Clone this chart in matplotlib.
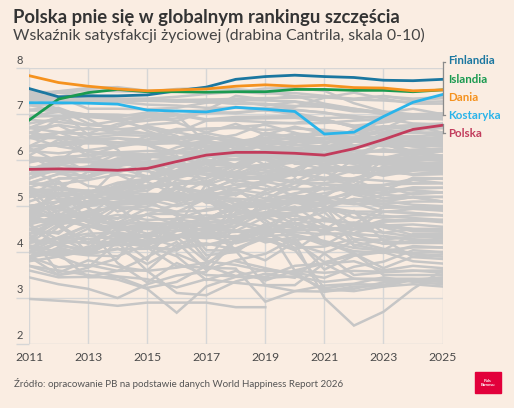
import matplotlib.pyplot as plt
import numpy as np
from matplotlib.patches import Rectangle

years = list(range(2011, 2026))

finlandia = [7.56, 7.38, 7.40, 7.40, 7.42, 7.51, 7.59, 7.76, 7.82, 7.85, 7.82, 7.80, 7.74, 7.73, 7.76]
islandia = [6.87, 7.33, 7.47, 7.54, 7.49, 7.49, 7.48, 7.49, 7.49, 7.54, 7.54, 7.52, 7.52, 7.49, 7.53]
dania = [7.84, 7.69, 7.61, 7.55, 7.51, 7.53, 7.55, 7.61, 7.64, 7.61, 7.63, 7.58, 7.57, 7.51, 7.53]
kostaryka = [7.25, 7.25, 7.24, 7.22, 7.09, 7.07, 7.05, 7.15, 7.11, 7.06, 6.57, 6.61, 6.95, 7.26, 7.43]
polska = [5.80, 5.81, 5.80, 5.78, 5.82, 5.97, 6.11, 6.17, 6.17, 6.15, 6.11, 6.25, 6.45, 6.67, 6.76]

pozostale = [
    [7.45, 7.50, 7.52, 7.50, 7.49, 7.55, 7.57, 7.55, 7.49, 7.39, 7.37, 7.32, 7.30, 7.26, 7.28],
    [7.40, 7.50, 7.57, 7.59, 7.51, 7.49, 7.48, 7.49, 7.56, 7.57, 7.51, 7.24, 7.06, 6.94, 6.98],
    [7.50, 7.47, 7.38, 7.34, 7.34, 7.38, 7.44, 7.49, 7.45, 7.46, 7.40, 7.32, 7.40, 7.30, 7.35],
    [7.40, 7.38, 7.36, 7.29, 7.29, 7.28, 7.31, 7.34, 7.35, 7.36, 7.38, 7.34, 7.39, 7.34, 7.37],
    [7.20, 7.22, 7.29, 7.29, 7.33, 7.31, 7.32, 7.31, 7.30, 7.28, 7.20, 7.12, 7.03, 6.95, 6.90],
    [7.35, 7.35, 7.31, 7.28, 7.31, 7.28, 7.27, 7.23, 7.22, 7.18, 7.16, 7.06, 7.06, 7.00, 7.00],
    [7.28, 7.48, 7.43, 7.32, 7.32, 7.28, 7.28, 7.23, 7.23, 7.10, 7.03, 6.96, 6.90, 6.80, 6.78],
    [7.30, 7.30, 7.28, 7.27, 7.21, 7.19, 7.14, 7.14, 7.13, 7.16, 7.36, 7.47, 7.34, 7.23, 7.23],
    [7.30, 7.37, 7.12, 7.12, 7.11, 7.14, 7.25, 7.29, 7.19, 7.27, 7.16, 7.10, 7.00, 6.91, 6.95],
    [6.96, 7.05, 6.95, 6.91, 6.86, 6.91, 7.09, 7.40, 7.32, 7.40, 7.23, 7.12, 7.03, 7.12, 7.00],
    [7.20, 7.08, 6.98, 6.94, 7.04, 6.98, 7.02, 7.04, 7.09, 7.09, 7.04, 6.91, 6.84, 6.91, 6.89],
    [6.70, 6.95, 7.00, 6.99, 6.95, 7.07, 7.08, 7.16, 7.08, 7.03, 6.89, 6.72, 6.71, 6.73, 6.76],
    [6.95, 6.96, 6.94, 6.89, 6.93, 6.99, 6.87, 6.86, 6.83, 6.80, 6.81, 6.86, 6.89, 6.92, 6.90],
    [7.08, 7.08, 6.99, 6.86, 6.99, 7.00, 6.89, 6.94, 6.95, 6.96, 6.89, 6.72, 6.72, 6.72, 6.75],
    [6.88, 6.83, 6.76, 6.73, 6.94, 6.85, 7.06, 7.02, 7.10, 6.99, 6.87, 6.75, 6.72, 6.73, 6.70],
    [6.90, 7.09, 6.80, 6.68, 6.58, 6.49, 6.59, 6.47, 6.32, 6.13, 6.33, 6.68, 6.68, 6.97, 6.98],
    [6.30, 6.60, 6.70, 6.60, 6.74, 6.60, 6.86, 6.90, 6.91, 6.92, 6.85, 6.75, 6.82, 6.92, 6.95],
    [5.85, 5.80, 5.83, 6.00, 6.03, 6.28, 6.44, 6.55, 6.80, 6.81, 6.92, 6.93, 6.95, 7.00, 7.02],
    [6.00, 6.06, 5.75, 5.73, 5.95, 6.00, 6.36, 6.40, 6.44, 6.37, 6.63, 6.60, 6.74, 6.65, 6.70],
    [6.70, 6.76, 6.46, 6.48, 6.44, 6.64, 6.69, 6.70, 6.66, 6.69, 6.66, 6.59, 6.60, 6.59, 6.60],
    [6.80, 6.90, 6.98, 6.95, 6.64, 6.42, 6.30, 6.19, 6.38, 6.33, 6.29, 6.27, 6.56, 6.49, 6.45],
    [6.60, 6.50, 6.49, 6.55, 6.53, 6.37, 6.29, 6.42, 6.31, 6.43, 6.47, 6.49, 6.61, 6.64, 6.50],
    [6.60, 6.77, 6.67, 6.67, 6.72, 6.61, 6.48, 6.44, 6.23, 6.17, 6.33, 6.13, 6.36, 6.13, 6.20],
    [6.30, 6.32, 6.37, 6.36, 6.40, 6.40, 6.31, 6.35, 6.40, 6.49, 6.47, 6.44, 6.42, 6.47, 6.50],
    [6.05, 5.97, 5.96, 5.98, 5.96, 6.00, 6.22, 6.39, 6.48, 6.46, 6.41, 6.32, 6.33, 6.32, 6.30],
    [6.48, 6.48, 6.41, 6.38, 6.35, 6.37, 6.52, 6.41, 6.49, 6.56, 6.46, 6.59, 6.72, 6.76, 6.60],
    [7.10, 7.14, 6.90, 6.57, 6.77, 6.82, 6.60, 6.79, 6.56, 6.73, 6.58, 6.57, 6.73, 6.76, 6.80],
    [6.50, 6.30, 6.20, 6.10, 6.08, 6.02, 6.12, 6.20, 6.31, 6.27, 6.30, 6.40, 6.95, 6.90, 6.95],
    [6.10, 6.45, 6.10, 6.30, 6.45, 6.50, 6.44, 6.26, 6.46, 6.23, 6.12, 6.29, 6.43, 6.30, 6.35],
    [6.50, 6.60, 6.56, 6.60, 6.58, 6.39, 6.09, 6.02, 6.01, 5.97, 5.90, 6.02, 6.39, 6.19, 6.25],
    [6.50, 6.60, 6.58, 6.79, 6.86, 6.98, 6.38, 6.34, 6.55, 6.50, 6.38, 6.48, 6.52, 6.52, 6.55],
    [6.20, 6.15, 6.22, 6.30, 6.38, 6.46, 6.53, 6.35, 6.45, 6.58, 6.54, 6.51, 6.67, 6.60, 6.60],
    [6.50, 6.90, 6.76, 6.86, 6.70, 6.53, 6.18, 6.40, 6.30, 6.18, 6.31, 6.27, 6.36, 6.30, 6.20],
    [6.20, 6.38, 6.38, 6.48, 6.35, 6.16, 6.11, 6.09, 6.01, 5.78, 6.01, 6.03, 5.70, 5.95, 5.90],
    [5.95, 6.07, 6.10, 6.17, 6.20, 6.20, 6.30, 6.32, 6.13, 6.33, 6.39, 6.50, 6.47, 6.47, 6.45],
    [5.80, 6.00, 5.97, 5.93, 5.88, 6.01, 6.13, 5.89, 5.77, 5.76, 5.56, 6.03, 5.95, 5.79, 5.80],
    [5.60, 6.00, 6.13, 5.85, 6.12, 6.17, 6.09, 6.34, 6.29, 6.12, 6.11, 6.43, 6.43, 6.40, 6.50],
    [5.50, 5.70, 5.80, 5.89, 5.96, 6.05, 6.14, 6.11, 6.14, 6.26, 6.16, 6.32, 6.39, 6.35, 6.40],
    [6.06, 6.03, 6.02, 6.15, 6.12, 6.05, 5.91, 5.87, 6.09, 6.04, 6.12, 6.13, 6.06, 6.13, 6.10],
    [6.27, 5.96, 5.96, 5.87, 5.97, 5.90, 5.95, 5.89, 6.12, 5.94, 6.06, 5.95, 6.06, 6.03, 6.00],
    [5.70, 5.76, 5.86, 6.14, 5.92, 5.96, 5.79, 6.27, 6.05, 6.15, 6.23, 6.19, 6.19, 6.16, 6.20],
    [5.00, 5.10, 5.05, 5.21, 5.56, 5.78, 6.07, 6.12, 6.07, 6.17, 6.14, 6.26, 6.60, 6.42, 6.45],
    [5.80, 5.95, 6.04, 5.96, 6.08, 6.15, 6.20, 6.21, 6.60, 6.49, 6.65, 6.03, 6.01, 5.96, 5.90],
    [5.50, 5.40, 5.30, 5.51, 5.60, 5.61, 5.76, 5.74, 6.11, 6.21, 6.25, 6.45, 6.34, 6.19, 6.10],
    [4.90, 5.00, 5.10, 5.41, 5.56, 5.87, 5.98, 5.89, 6.23, 6.18, 6.03, 6.21, 6.19, 6.23, 6.25],
    [4.70, 4.60, 4.78, 5.30, 5.62, 5.76, 6.00, 5.84, 6.08, 6.04, 6.00, 6.12, 6.00, 6.02, 6.05],
    [5.00, 5.10, 5.20, 5.37, 5.41, 5.71, 5.60, 5.91, 6.26, 5.92, 5.93, 5.97, 5.96, 6.03, 6.05],
    [5.50, 5.40, 5.33, 5.28, 5.43, 5.50, 5.61, 5.88, 6.04, 6.13, 6.10, 6.00, 5.91, 5.90, 5.95],
    [4.70, 4.60, 5.10, 5.17, 5.40, 5.70, 5.96, 6.02, 6.14, 6.10, 6.07, 6.41, 6.30, 6.32, 6.35],
    [6.30, 6.37, 6.44, 6.39, 6.33, 6.07, 6.02, 5.89, 5.84, 5.70, 5.60, 5.78, 6.00, 5.94, 5.90],
    [6.10, 5.76, 5.44, 5.37, 5.85, 5.89, 6.26, 6.16, 6.05, 6.09, 6.15, 6.03, 6.07, 6.00, 6.05],
    [4.60, 4.80, 5.10, 5.03, 5.06, 5.57, 5.46, 5.67, 5.73, 5.67, 5.88, 5.79, 5.66, 5.77, 5.80],
    [5.50, 5.70, 5.66, 5.95, 5.96, 5.86, 5.81, 5.70, 5.92, 5.68, 5.74, 5.80, 5.78, 5.69, 5.70],
    [5.80, 5.90, 6.00, 5.69, 5.41, 5.47, 5.54, 5.75, 5.66, 5.81, 6.09, 6.07, 6.04, 5.93, 5.95],
    [4.90, 4.99, 5.31, 5.43, 5.45, 5.61, 5.94, 6.27, 6.05, 5.64, 6.25, 6.02, 6.00, 6.09, 6.05],
    [5.80, 5.50, 5.08, 5.07, 5.12, 5.38, 5.30, 5.47, 5.53, 5.41, 5.76, 5.85, 6.04, 6.04, 6.10],
    [4.80, 5.10, 5.00, 5.29, 5.33, 5.72, 5.71, 5.63, 5.81, 6.04, 5.92, 5.98, 5.95, 5.90, 5.90],
    [5.60, 5.85, 5.60, 6.03, 5.84, 5.68, 5.81, 5.86, 5.89, 6.12, 5.86, 6.11, 6.24, 6.16, 6.20],
    [5.35, 5.37, 5.75, 5.90, 5.89, 5.75, 5.85, 5.66, 5.58, 5.80, 6.00, 5.72, 6.05, 5.90, 5.95],
    [4.75, 4.60, 5.10, 5.48, 5.55, 6.10, 5.48, 5.83, 5.91, 6.02, 5.99, 5.92, 5.97, 5.94, 5.90],
    [5.40, 4.80, 4.77, 5.07, 5.15, 5.42, 5.30, 5.61, 5.59, 5.74, 5.74, 5.53, 6.00, 5.82, 5.80],
    [5.30, 4.70, 4.83, 4.72, 5.15, 5.00, 5.15, 5.25, 5.51, 5.70, 5.79, 5.86, 5.95, 5.96, 5.90],
    [5.80, 5.77, 5.76, 5.75, 5.84, 5.74, 5.68, 5.53, 5.67, 5.53, 5.84, 5.84, 5.82, 5.87, 5.85],
    [5.60, 5.80, 5.86, 5.82, 5.76, 5.65, 5.78, 5.64, 5.64, 5.71, 5.60, 5.46, 5.78, 5.68, 5.70],
    [5.80, 5.75, 5.80, 5.94, 5.93, 5.67, 5.92, 5.65, 5.87, 5.95, 5.80, 5.73, 5.70, 5.79, 5.80],
    [4.50, 4.70, 5.04, 5.23, 5.05, 5.39, 5.19, 5.36, 5.27, 5.12, 5.40, 5.37, 5.27, 5.38, 5.40],
    [5.30, 5.15, 5.19, 5.05, 5.27, 5.24, 5.20, 5.40, 5.55, 5.70, 5.62, 5.60, 5.73, 5.70, 5.75],
    [4.85, 5.01, 5.09, 5.17, 5.18, 5.20, 5.18, 5.16, 5.12, 5.52, 5.59, 5.54, 5.87, 5.81, 5.80],
    [5.40, 5.20, 5.30, 5.33, 5.25, 5.09, 5.35, 5.57, 5.45, 5.22, 5.21, 5.57, 5.32, 5.62, 5.60],
    [5.40, 5.60, 5.62, 5.92, 6.07, 5.37, 5.29, 5.04, 5.01, 4.89, 5.12, 5.33, 5.36, 5.57, 5.50],
    [3.90, 4.20, 4.22, 4.22, 4.11, 4.71, 4.93, 5.01, 5.10, 5.26, 5.47, 5.45, 5.46, 5.59, 5.60],
    [4.60, 5.55, 4.96, 4.61, 4.64, 4.59, 4.72, 5.00, 5.12, 5.20, 5.15, 5.28, 5.30, 5.41, 5.40],
    [5.30, 5.35, 5.33, 5.39, 5.39, 5.50, 5.48, 5.37, 4.95, 5.13, 4.74, 4.61, 4.97, 4.98, 4.95],
    [5.00, 5.10, 4.68, 4.36, 4.10, 4.06, 4.39, 4.33, 4.56, 4.88, 5.08, 5.07, 4.87, 4.94, 4.90],
    [4.15, 4.00, 3.98, 4.29, 4.25, 4.34, 4.53, 4.45, 4.47, 4.89, 4.94, 5.29, 5.18, 5.19, 5.10],
    [4.20, 4.30, 4.28, 4.35, 4.36, 4.32, 4.45, 4.56, 5.12, 5.28, 5.38, 5.34, 5.46, 5.49, 5.50],
    [4.85, 5.25, 5.27, 4.88, 5.07, 4.87, 5.16, 4.92, 4.76, 4.55, 4.98, 4.88, 4.88, 4.85, 4.80],
    [5.30, 5.28, 5.19, 5.83, 5.65, 5.47, 5.07, 5.12, 4.62, 4.52, 4.56, 4.41, 4.66, 4.68, 4.70],
    [4.90, 4.96, 4.64, 4.51, 4.83, 4.83, 4.72, 4.81, 4.95, 5.18, 5.28, 5.42, 5.38, 5.34, 5.30],
    [4.75, 4.64, 4.69, 4.81, 4.70, 4.72, 4.61, 4.55, 4.87, 4.62, 4.71, 4.50, 4.88, 4.85, 4.80],
    [5.00, 4.97, 5.23, 5.15, 5.24, 5.27, 5.21, 4.97, 5.00, 4.92, 4.90, 4.85, 4.79, 4.74, 4.70],
    [4.60, 4.27, 4.19, 4.20, 4.36, 4.74, 3.93, 4.00, 4.42, 4.17, 3.98, 4.23, 4.07, 3.98, 4.00],
    [4.10, 4.30, 4.40, 4.42, 4.36, 4.56, 4.64, 4.67, 4.54, 4.61, 4.46, 4.58, 4.60, 4.45, 4.45],
    [4.90, 5.00, 4.69, 4.63, 4.64, 4.50, 4.31, 4.86, 4.86, 5.15, 5.03, 4.13, 4.28, 3.89, 3.85],
    [5.00, 4.77, 4.57, 4.40, 4.32, 4.12, 4.19, 4.05, 3.82, 4.22, 3.78, 3.93, 4.04, 4.39, 4.40],
    [4.50, 4.20, 3.95, 4.08, 3.74, 4.08, 4.16, 4.23, 4.43, 4.64, 4.43, 4.64, 4.54, 4.37, 4.40],
    [4.90, 5.28, 4.97, 4.47, 4.53, 4.53, 5.48, 4.72, 4.97, 4.69, 4.87, 4.27, 4.27, 4.34, 4.30],
    [4.70, 5.40, 4.68, 5.03, 5.13, 4.79, 4.04, 4.03, 3.28, 3.28, 3.76, 3.98, 3.50, 3.50, 3.50],
    [3.90, 3.97, 3.45, 3.46, 3.22, 3.35, 3.70, 3.48, 3.62, 3.55, 3.44, 3.68, 3.79, 4.04, 4.00],
    [4.60, 4.13, 4.07, 4.65, 4.10, 3.69, 3.66, 3.64, 2.92, 3.15, 3.14, 3.20, 3.34, 3.40, 3.40],
    [3.80, 3.90, 4.03, 4.29, 4.13, 3.91, 3.39, 3.59, 3.38, 3.60, 3.75, 3.42, 3.42, 3.42, 3.40],
    [4.10, 4.32, 4.58, 4.51, 4.63, 4.32, 3.80, 3.72, 3.59, 3.57, 3.14, 3.25, 3.25, 3.30, 3.25],
    [4.20, 4.85, 4.52, 3.76, 3.34, 3.76, 3.50, 3.47, 3.44, 3.47, 3.35, 3.42, 3.38, 3.38, 3.35],
    [3.90, 3.67, 3.72, 3.59, 3.89, 4.22, 3.61, 3.82, 3.96, 4.30, 3.62, 3.92, 4.00, 3.80, 3.75],
    [4.00, 3.97, 4.03, 4.21, 3.59, 3.11, 3.06, 3.36, 3.53, 3.44, 3.97, 3.50, 3.56, 3.59, 3.60],
    [3.90, 3.50, 3.59, 3.47, 3.41, 3.23, 3.41, 3.33, 3.27, 3.15, 3.27, 3.31, 3.45, 3.35, 3.30],
    [4.00, 4.31, 4.02, 4.45, 4.11, 4.03, 4.46, 4.06, 4.31, 4.05, 3.21, 3.30, 3.29, 3.39, 3.40],
    [None, None, None, None, None, None, None, 3.80, 3.65, 3.51, 3.19, 3.15, 3.25, 3.40, 3.45],
    [2.98, 2.94, 2.90, 2.83, 2.90, 2.90, 2.90, 2.80, 2.80, None, None, None, None, None, None],
    [3.70, 3.60, 3.50, 3.40, 3.20, 2.68, 3.25, 3.46, 3.46, 3.70, 3.75, 3.80, 3.60, 3.70, 3.65],
    [5.00, 4.90, 5.00, 5.10, 5.20, 5.20, 5.10, 4.90, 4.70, 4.20, 3.00, 2.40, 2.70, 3.20, 3.60],
    [4.80, 4.60, 4.70, 4.74, 4.81, 4.59, 4.59, 4.46, 4.39, 4.73, 4.52, 4.50, 4.42, 4.34, 4.35],
    [4.90, 4.72, 4.55, 4.52, 4.50, 4.46, 4.49, 4.46, 4.76, 4.85, 4.94, 5.16, 5.10, 5.20, 5.10],
    [5.20, 5.27, 5.34, 5.21, 5.17, 5.30, 5.16, 4.64, 4.45, 4.09, 4.12, 4.29, 4.19, 4.23, 4.20],
    [4.30, 4.15, 4.36, 4.27, 4.62, 4.36, 4.33, 4.47, 4.21, 4.33, 4.21, 3.97, 3.65, 3.90, 3.95],
    [3.90, 4.00, 3.93, 3.91, 4.16, 4.46, 4.65, 4.70, 4.85, 4.84, 4.40, 4.39, 4.34, 4.26, 4.25],
    [4.40, 4.44, 4.79, 4.30, 4.20, 4.36, 4.15, 4.31, 4.45, 4.43, 4.39, 4.39, 4.35, 4.28, 4.25],
    [4.00, 3.90, 3.67, 3.86, 4.62, 4.62, 4.55, 4.68, 4.82, 4.86, 5.05, 5.15, 4.97, 4.97, 4.95],
    [4.20, 4.60, 4.20, 4.61, 4.82, 5.04, 5.25, 5.14, 4.95, 5.14, 5.05, 5.14, 5.03, 4.96, 4.95],
    [4.00, 4.56, 4.18, 4.51, 4.51, 4.57, 4.35, 4.19, 4.35, 4.38, 4.24, 4.09, 4.03, 3.95, 3.90],
    [4.30, 4.67, 3.96, 4.06, 4.07, 4.36, 4.54, 4.70, 4.85, 4.99, 4.57, 4.38, 4.18, 4.20, 4.20],
    [3.60, 3.45, 3.46, 3.59, 3.60, 4.16, 4.38, 4.95, 5.27, 5.50, 5.49, 5.25, 5.11, 5.03, 5.00],
    [3.45, 3.30, 3.20, 3.00, 3.30, 3.49, 3.57, 4.25, 4.27, 4.04, 4.47, 4.16, 4.03, 4.10, 4.10],
    [3.90, 4.05, 3.95, 4.28, 4.37, 4.59, 4.74, 4.93, 4.79, 4.79, 4.67, 4.64, 4.55, 4.50, 4.50],
    [4.10, 3.93, 4.12, 4.15, 4.17, 4.28, 4.74, 4.62, 5.00, 5.07, 5.00, 4.56, 4.56, 4.50, 4.50],
    [3.70, 3.50, 3.66, 4.23, 4.56, 4.35, 4.30, 4.35, 4.29, 4.25, 4.40, 4.40, 4.60, 4.50, 4.45],
    [7.40, 7.10, 6.55, 6.23, 5.53, 5.25, 4.71, 5.01, 5.05, 5.11, 5.21, 5.61, 5.76, 5.80, 5.75],
    [5.10, 5.30, 5.00, 5.29, 5.19, 5.12, 5.29, 5.26, 5.54, 5.74, 5.83, 5.82, 5.79, 5.84, 5.85],
    [5.70, 5.90, 5.82, 6.04, 6.05, 6.19, 6.42, 6.17, 6.03, 6.18, 6.01, 6.02, 6.04, 6.20, 6.20],
    [4.50, 4.40, 4.90, 4.96, 4.99, 5.29, 5.83, 5.46, 5.37, 5.37, 5.38, 5.45, 5.41, 5.26, 5.30],
    [5.20, 5.60, 5.62, 5.81, 5.80, 5.23, 5.55, 5.23, 5.60, 5.50, 5.50, 5.60, 5.55, 5.50, 5.50],
    [4.00, 4.20, 4.51, 4.98, 4.91, 4.88, 4.90, 5.01, 5.33, 5.59, 5.36, 5.40, 5.16, 5.28, 5.30],
    [4.80, 4.80, 4.87, 4.64, 4.95, 4.82, 4.69, 5.05, 5.00, 5.14, 5.13, 5.04, 5.11, 5.20, 5.20],
    [3.84, 4.10, 3.94, 4.33, 3.83, 4.73, 4.80, 4.76, 4.85, 4.95, 5.08, 5.05, 5.05, 5.10, 5.10],
    [4.98, 4.67, 4.90, 4.97, 4.55, 4.28, 4.68, 5.00, 4.75, 5.10, 5.00, 4.75, 4.75, 4.80, 4.80],
    [4.40, 4.70, 4.57, 4.38, 4.23, 4.35, 4.40, 4.44, 4.53, 4.38, 4.15, 4.50, 4.70, 4.70, 4.65],
    [4.20, 4.30, 4.57, 4.55, 4.29, 4.60, 3.83, 4.56, 5.12, 5.10, 4.90, 4.88, 4.42, 4.50, 4.50],
    [4.60, 4.75, 4.83, 4.53, 4.57, 4.64, 4.44, 4.64, 4.45, 4.46, 4.73, 4.50, 4.58, 4.60, 4.55],
    [4.40, 3.55, 3.82, 3.68, 3.59, 3.66, 3.77, 4.08, 4.34, 4.64, 4.20, 4.02, 3.98, 4.13, 4.10],
    [None, None, None, None, None, 3.96, 3.70, 4.29, 4.61, 3.59, 3.55, 3.59, 3.57, 3.60, 3.55],
    [4.70, 4.65, 4.70, 4.58, 4.40, 4.56, 4.61, 4.25, 4.48, 4.48, 4.48, 4.89, 4.24, 4.20, 4.20],
    [4.70, 4.90, 5.25, 5.25, 5.15, 5.15, 5.22, 5.30, 5.17, 5.40, 5.20, 5.10, 5.25, 5.20, 5.20],
    [5.50, 5.48, 5.57, 5.69, 5.63, 5.90, 5.94, 6.24, 5.89, 5.77, 6.07, 6.02, 5.90, 6.00, 6.00],
    [6.00, 5.96, 6.45, 6.30, 6.52, 6.68, 6.67, 6.72, 6.77, 6.60, 6.39, 6.45, 6.40, 6.35, 6.35],
    [6.50, 6.51, 6.17, 6.17, 6.12, 6.19, 6.19, 6.19, 6.19, 6.20, 6.25, 6.20, 6.20, 6.20, 6.20],
    [6.70, 6.61, 6.37, 6.38, 6.40, 6.38, 6.38, 6.38, 6.38, 6.40, 6.40, 6.40, 6.40, 6.40, 6.40],
]

wyroznione = [
    ("Finlandia", finlandia, "#1b77a0"),
    ("Islandia", islandia, "#1a9a50"),
    ("Dania", dania, "#f5921e"),
    ("Kostaryka", kostaryka, "#2ab4ea"),
    ("Polska", polska, "#c23c5c"),
]
# pozycje etykiet po prawej (w jednostkach osi y)
etykiety_y = [8.16, 7.75, 7.36, 6.97, 6.58]

BG = "#faede2"
GRID = "#d6d6d6"
TXT = "#4a4a4a"

plt.rcParams["font.family"] = ["Lato", "DejaVu Sans"]

fig = plt.figure(figsize=(5.14, 4.08), dpi=100, facecolor=BG)
ax = fig.add_axes([0.0564, 0.157, 0.861 - 0.0564, 0.8326 - 0.157])
ax.set_facecolor(BG)

for row in pozostale:
    ax.plot(years, np.array(row, dtype=float), color="#c6c6c6", lw=1.8,
            solid_joinstyle="miter", zorder=2)

for name, vals, col in wyroznione:
    ax.plot(years, vals, color=col, lw=2.0, zorder=4)

ax.set_xlim(2011, 2025)
ax.set_ylim(2, 8)
ax.set_xticks(range(2011, 2026, 2))
ax.set_yticks(range(2, 9))
ax.set_yticklabels([])
ax.grid(True, color=GRID, lw=1, zorder=1)
for s in ax.spines.values():
    s.set_visible(False)
ax.tick_params(axis="y", length=9.5, color=GRID, width=1)
ax.tick_params(axis="x", length=0, pad=6, labelsize=8.7, labelcolor=TXT)

for v in range(2, 9):
    ax.text(-0.03, v + 0.06, str(v), transform=ax.get_yaxis_transform(),
            ha="left", va="bottom", fontsize=8, color=TXT)

# klamry przy etykietach
kw = dict(color="#8a8a8a", lw=0.9, clip_on=False, zorder=5)
ax.plot([2025.0, 2025.0], [8.13, 6.98], **kw)
ax.plot([2025.0, 2025.08], [8.13, 8.13], **kw)
ax.plot([2025.0, 2025.08], [6.98, 6.98], **kw)
ax.plot([2025.0, 2025.0], [6.78, 6.60], **kw)
ax.plot([2025.0, 2025.08], [6.60, 6.60], **kw)

for (name, vals, col), ly in zip(wyroznione, etykiety_y):
    ax.text(2025.2, ly, name, color=col, fontsize=8.3, fontweight="bold",
            ha="left", va="center", clip_on=False)

fig.text(0.026, 0.944, "Polska pnie się w globalnym rankingu szczęścia",
         fontsize=13.3, fontweight="bold", color="#333333", ha="left", va="baseline")
fig.text(0.026, 0.901, "Wskaźnik satysfakcji życiowej (drabina Cantrila, skala 0-10)",
         fontsize=11.4, color="#444444", ha="left", va="baseline")
fig.text(0.027, 0.052, "Źródło: opracowanie PB na podstawie danych World Happiness Report 2026",
         fontsize=7, color="#555555", ha="left", va="baseline")

logo = Rectangle((475 / 514, 1 - 393 / 408), 26 / 514, 21 / 408,
                 transform=fig.transFigure, color="#e2003b", zorder=10)
fig.patches.append(logo)
fig.text(488 / 514, 1 - 383 / 408, "Puls\nBiznesu", fontsize=3, color="white",
         ha="center", va="center", fontweight="bold", linespacing=0.8, zorder=11)

fig.savefig("out.png", dpi=100, facecolor=BG)
